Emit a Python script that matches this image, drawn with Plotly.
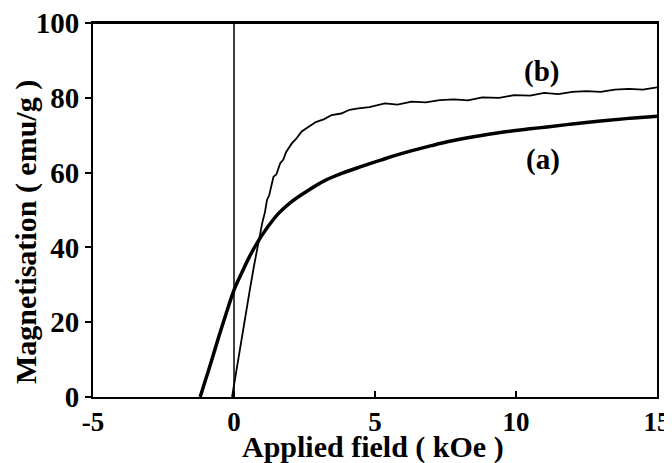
import plotly.graph_objects as go

# Curve (a)
field_a = [-1.2, -1.0, -0.8, -0.54, -0.3, 0.0, 0.3, 0.5, 0.81, 1.2, 1.58, 2.0, 2.64, 3.2,
           3.82, 4.5, 5.23, 6.0, 7.0, 7.6, 8.5, 9.5, 10.5, 11.1, 12.0, 13.0, 14.0, 15.0]
mag_a = [0, 4.8, 9.6, 16.1, 21.8, 28.6, 33.6, 36.8, 41.1, 45.5, 49.1, 52.0, 55.3, 57.8,
         59.8, 61.6, 63.4, 65.2, 67.2, 68.3, 69.6, 70.8, 71.7, 72.2, 73.0, 73.8, 74.5, 75.1]

# Curve (b)
field_b = [-0.07, 0.1, 0.28, 0.45, 0.58, 0.72, 0.87, 1.0, 1.1, 1.17, 1.25, 1.32, 1.40, 1.5,
           1.64, 1.75, 1.85, 2.05, 2.2, 2.4, 2.64, 2.9, 3.2, 3.46, 3.8, 4.1, 4.41, 4.8,
           5.35, 5.8, 6.3, 6.8, 7.3, 7.8, 8.3, 8.8, 9.4, 9.94, 10.5, 11.0, 11.5, 12.0,
           12.5, 13.0, 13.5, 14.0, 14.5, 15.0]
mag_b = [0, 8, 16.1, 24, 29.5, 35.5, 41.5, 46.5, 49.5, 52.7, 54, 56.5, 58.9, 59.5,
         62.5, 63.5, 65.5, 67.8, 69, 71, 72.3, 73.5, 74.3, 75.4, 75.8, 76.8, 77.2, 77.5,
         78.5, 78.2, 79.0, 78.8, 79.4, 79.6, 79.3, 80.1, 80.0, 80.7, 80.6, 81.3, 81.0, 81.6,
         81.8, 81.6, 82.2, 82.4, 82.2, 82.8]

x_ticks = [-5, 0, 5, 10, 15]
x_tick_labels = ["-5", "0", "5", "10", "15"]
y_ticks = [0, 20, 40, 60, 80, 100]
y_tick_labels = ["0", "20", "40", "60", "80", "100"]

font = dict(family="Liberation Serif", size=29, color="black", weight="bold")
xtick_font = dict(family="Liberation Serif", size=27, color="black", weight="bold")
title_font = dict(family="Liberation Serif", size=30, color="black", weight="bold")

fig = go.Figure()
fig.add_trace(go.Scatter(x=field_a, y=mag_a, mode="lines",
                         line=dict(color="black", width=3.5, shape="spline"),
                         showlegend=False))
fig.add_trace(go.Scatter(x=field_b, y=mag_b, mode="lines",
                         line=dict(color="black", width=1.8),
                         showlegend=False))

fig.add_shape(type="line", x0=0, x1=0, y0=0, y1=100, xref="x", yref="y",
              line=dict(color="black", width=1.5))
# top frame line
fig.add_shape(type="line", x0=0, x1=1, y0=1, y1=1, xref="paper", yref="paper",
              line=dict(color="black", width=2))

fig.add_annotation(x=10.9, y=87, text="(b)", showarrow=False, font=font)
fig.add_annotation(x=10.95, y=63.4, text="(a)", showarrow=False, font=font)

# axis titles
fig.add_annotation(x=0.496, y=-0.134, xref="paper", yref="paper", text="Applied field ( kOe )",
                   showarrow=False, font=title_font, xanchor="center", yanchor="middle")
fig.add_annotation(x=-0.119, y=0.441, xref="paper", yref="paper", text="Magnetisation ( emu/g )",
                   showarrow=False, font=title_font, textangle=-90, xanchor="center", yanchor="middle")

fig.update_layout(
    width=672, height=463,
    margin=dict(l=85, r=23, t=15, b=74, autoexpand=False),
    paper_bgcolor="white", plot_bgcolor="white",
    font=font,
)
fig.update_xaxes(range=[-5, 15], tickvals=x_ticks, ticktext=x_tick_labels,
                 ticks="inside", ticklen=6, tickwidth=1.5, tickcolor="black",
                 showline=True, linecolor="black", linewidth=2, mirror=True,
                 showgrid=False, zeroline=False, tickfont=xtick_font, automargin=False,
                 ticklabeloverflow="allow")
fig.update_yaxes(range=[0, 100], tickvals=y_ticks, ticktext=y_tick_labels,
                 ticks="outside", ticklen=6, tickwidth=1.5, tickcolor="black",
                 showline=True, linecolor="black", linewidth=2, mirror=True,
                 showgrid=False, zeroline=False, tickfont=font, automargin=False,
                 ticklabeloverflow="allow")

fig.write_html("out.html")
